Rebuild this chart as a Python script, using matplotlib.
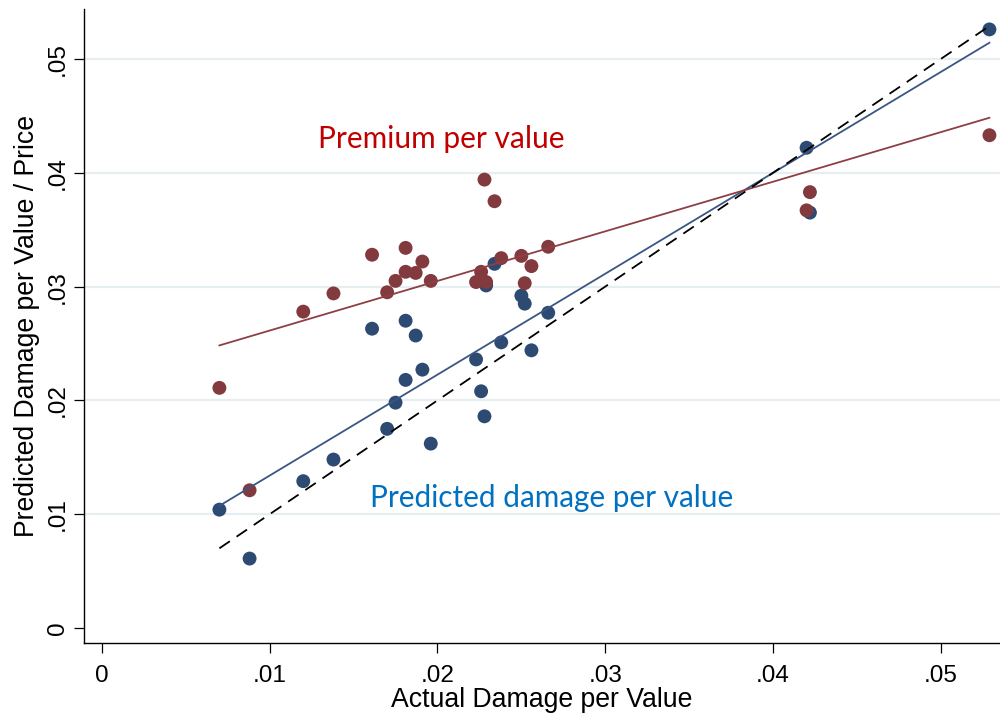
import numpy as np
import matplotlib
matplotlib.use("Agg")
import matplotlib.pyplot as plt

# Actual damage per value for each observation
actual = [0.0070, 0.0088, 0.0120, 0.0138, 0.0161, 0.0170, 0.0175, 0.0181, 0.0181,
          0.0187, 0.0191, 0.0196, 0.0223, 0.0226, 0.0228, 0.0229, 0.0234, 0.0238,
          0.0250, 0.0252, 0.0256, 0.0266, 0.0420, 0.0422, 0.0529]
# Model-predicted damage per value
predicted = [0.0104, 0.0061, 0.0129, 0.0148, 0.0263, 0.0175, 0.0198, 0.0270, 0.0218,
             0.0257, 0.0227, 0.0162, 0.0236, 0.0208, 0.0186, 0.0301, 0.0320, 0.0251,
             0.0292, 0.0285, 0.0244, 0.0277, 0.0422, 0.0365, 0.0526]
# Insurance premium per value
premium = [0.0211, 0.0121, 0.0278, 0.0294, 0.0328, 0.0295, 0.0305, 0.0334, 0.0313,
           0.0312, 0.0322, 0.0305, 0.0304, 0.0313, 0.0394, 0.0304, 0.0375, 0.0325,
           0.0327, 0.0303, 0.0318, 0.0335, 0.0367, 0.0383, 0.0433]

xticks = [0, 0.01, 0.02, 0.03, 0.04, 0.05]
xticklabels = ["0", ".01", ".02", ".03", ".04", ".05"]
yticks = [0, 0.01, 0.02, 0.03, 0.04, 0.05]
yticklabels = ["0", ".01", ".02", ".03", ".04", ".05"]

BLUE_PT = "#2d4a73"
RED_PT = "#833a3e"
BLUE_LN = "#3b5683"
RED_LN = "#8e3f44"

plt.rcParams["font.family"] = ["Liberation Sans", "DejaVu Sans"]

fig = plt.figure(figsize=(10, 7.17), dpi=100)
ax = fig.add_axes([0.084, 0.1032, 0.916, 0.8842])

x = np.asarray(actual)
yp = np.asarray(predicted)
yr = np.asarray(premium)

# horizontal grid
for g in yticks[1:]:
    ax.axhline(g, color="#e7eef2", lw=1.6, zorder=0)

ax.scatter(x, yp, s=100, color=BLUE_PT, edgecolors="none", zorder=2)
ax.scatter(x, yr, s=100, color=RED_PT, edgecolors="none", zorder=3)

# linear fits
xf = np.array([x.min(), x.max()])
bp = np.polyfit(x, yp, 1)
br = np.polyfit(x, yr, 1)
ax.plot(xf, np.polyval(bp, xf), color=BLUE_LN, lw=1.3, zorder=4)
ax.plot(xf, np.polyval(br, xf), color=RED_LN, lw=1.3, zorder=4)
# 45-degree reference line
ax.plot(xf, xf, color="black", lw=1.3, ls=(0, (7, 4.5)), zorder=5)

ax.set_xlim(-0.00107, 0.05353)
ax.set_ylim(-0.00132, 0.05439)

ax.set_xticks(xticks)
ax.set_xticklabels(xticklabels)
ax.set_yticks(yticks)
ax.set_yticklabels(yticklabels, rotation=90, va="center")

ax.tick_params(axis="both", direction="out", length=7, width=0.9,
               labelsize=17.5, color="black")
ax.tick_params(axis="x", pad=8.5)
ax.tick_params(axis="y", pad=4)

for side in ("top", "right"):
    ax.spines[side].set_visible(False)
for side in ("left", "bottom"):
    ax.spines[side].set_linewidth(1.0)

ax.set_xlabel("Actual Damage per Value", fontsize=19.2, labelpad=0)
ax.set_ylabel("Predicted Damage per Value / Price", fontsize=19.2, labelpad=5)

ax.text(0.01288, 0.04221, "Premium per value", color="#c00000",
        fontsize=21.5, family=["Lato", "DejaVu Sans"], ha="left", va="baseline")
ax.text(0.01598, 0.01066, "Predicted damage per value", color="#0070c0",
        fontsize=21.4, family=["Lato", "DejaVu Sans"], ha="left", va="baseline")

fig.savefig("out.png", dpi=100, facecolor="white")
